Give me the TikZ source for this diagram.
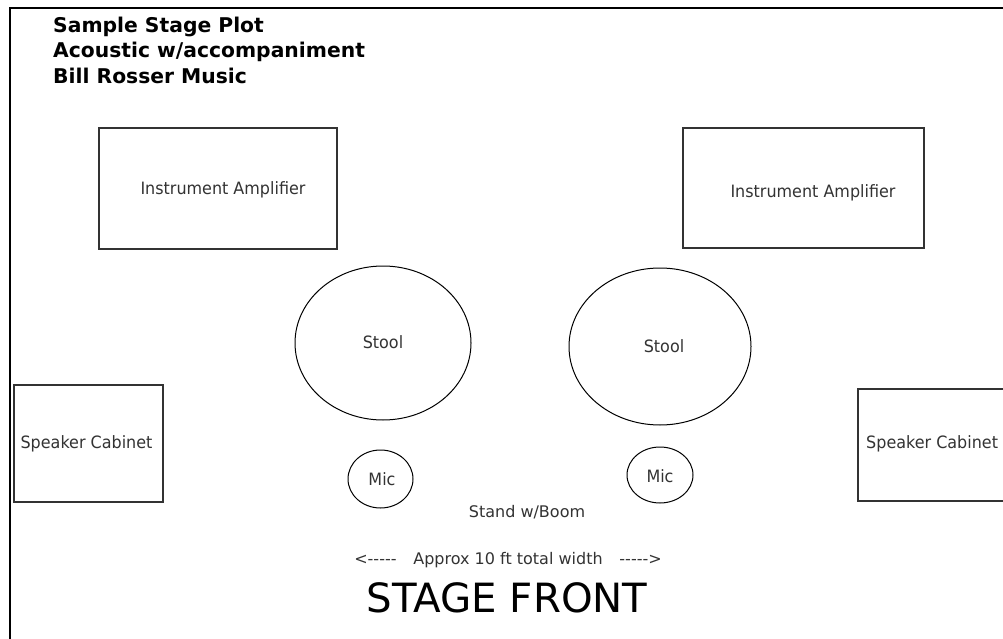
\documentclass[tikz,border=0pt]{standalone}
\usepackage{fontspec}
\setmainfont{DejaVu Sans}
\newfontfamily\lblfont[FakeStretch=0.94]{DejaVu Sans}
\usetikzlibrary{shapes.geometric}
\tikzset{
  rbox/.style={draw=black!80, line width=1.3pt, inner sep=0pt, outer sep=0pt, rectangle},
  oval/.style={draw=black, line width=1pt, inner sep=0pt, outer sep=0pt, ellipse},
  lbl/.style={anchor=base, inner sep=0pt, text=black!80, font=\lblfont\fontsize{17}{20}\selectfont},
  ttl/.style={anchor=base west, inner sep=0pt, text=black, font=\bfseries\fontsize{20.3}{23}\selectfont},
  frame/.style={draw=black, line width=2.5pt}
}
\begin{document}
\begin{tikzpicture}[x=1pt,y=-1pt]
\useasboundingbox (0,0) rectangle (1003,639);
\clip (0,0) rectangle (1003,639);
\fill[white] (0,0) rectangle (1003,639);
% frame
\coordinate (fbl) at (10,645);
\coordinate (ftl) at (10,8);
\coordinate (ftr) at (1010,8);
\draw[frame] (fbl) -- (ftl) -- (ftr);
% title
\node[ttl] (t1) at (53,33) {Sample Stage Plot};
\node[ttl] (t2) at (53,58) {Acoustic w/accompaniment};
\node[ttl] (t3) at (53,84) {Bill Rosser Music};
% amplifiers
\node[rbox, minimum width=238pt, minimum height=121pt] (ampL) at (218,188.5) {};
\node[lbl] (ampLt) at (223,194) {Instrument Amplifier};
\node[rbox, minimum width=241pt, minimum height=120pt] (ampR) at (803.5,188) {};
\node[lbl] (ampRt) at (813,197) {Instrument Amplifier};
% stools
\node[oval, minimum width=176pt, minimum height=154pt] (stoolL) at (383,343) {};
\node[lbl] (stoolLt) at (383,348) {Stool};
\node[oval, minimum width=182pt, minimum height=157pt] (stoolR) at (660,346.5) {};
\node[lbl] (stoolRt) at (664,352) {Stool};
% speaker cabinets
\node[rbox, minimum width=149pt, minimum height=117pt] (cabL) at (88.5,443.5) {};
\node[lbl] (cabLt) at (86.5,448) {Speaker Cabinet};
\node[rbox, minimum width=220pt, minimum height=112pt] (cabR) at (968,445) {};
\node[lbl, anchor=base west] (cabRt) at (866,448) {Speaker Cabinet};
% mics
\node[oval, minimum width=65pt, minimum height=58pt] (micL) at (380.5,479) {};
\node[lbl] (micLt) at (382,485) {Mic};
\node[oval, minimum width=66pt, minimum height=56pt] (micR) at (660,475) {};
\node[lbl] (micRt) at (660,482) {Mic};
% bottom texts
\node[lbl, font=\fontsize{16}{19}\selectfont] (stand) at (527,517) {Stand w/Boom};
\node[lbl, font=\fontsize{16}{19}\selectfont] (width) at (508,564) {<-{}-{}-{}-{}-\hspace{1.05em}Approx 10 ft total width\hspace{1.05em}-{}-{}-{}-{}->};
\node[anchor=base, inner sep=0pt, text=black, font=\fontsize{40.3}{45}\selectfont] (front) at (507,612) {STAGE FRONT};
\end{tikzpicture}
\end{document}
